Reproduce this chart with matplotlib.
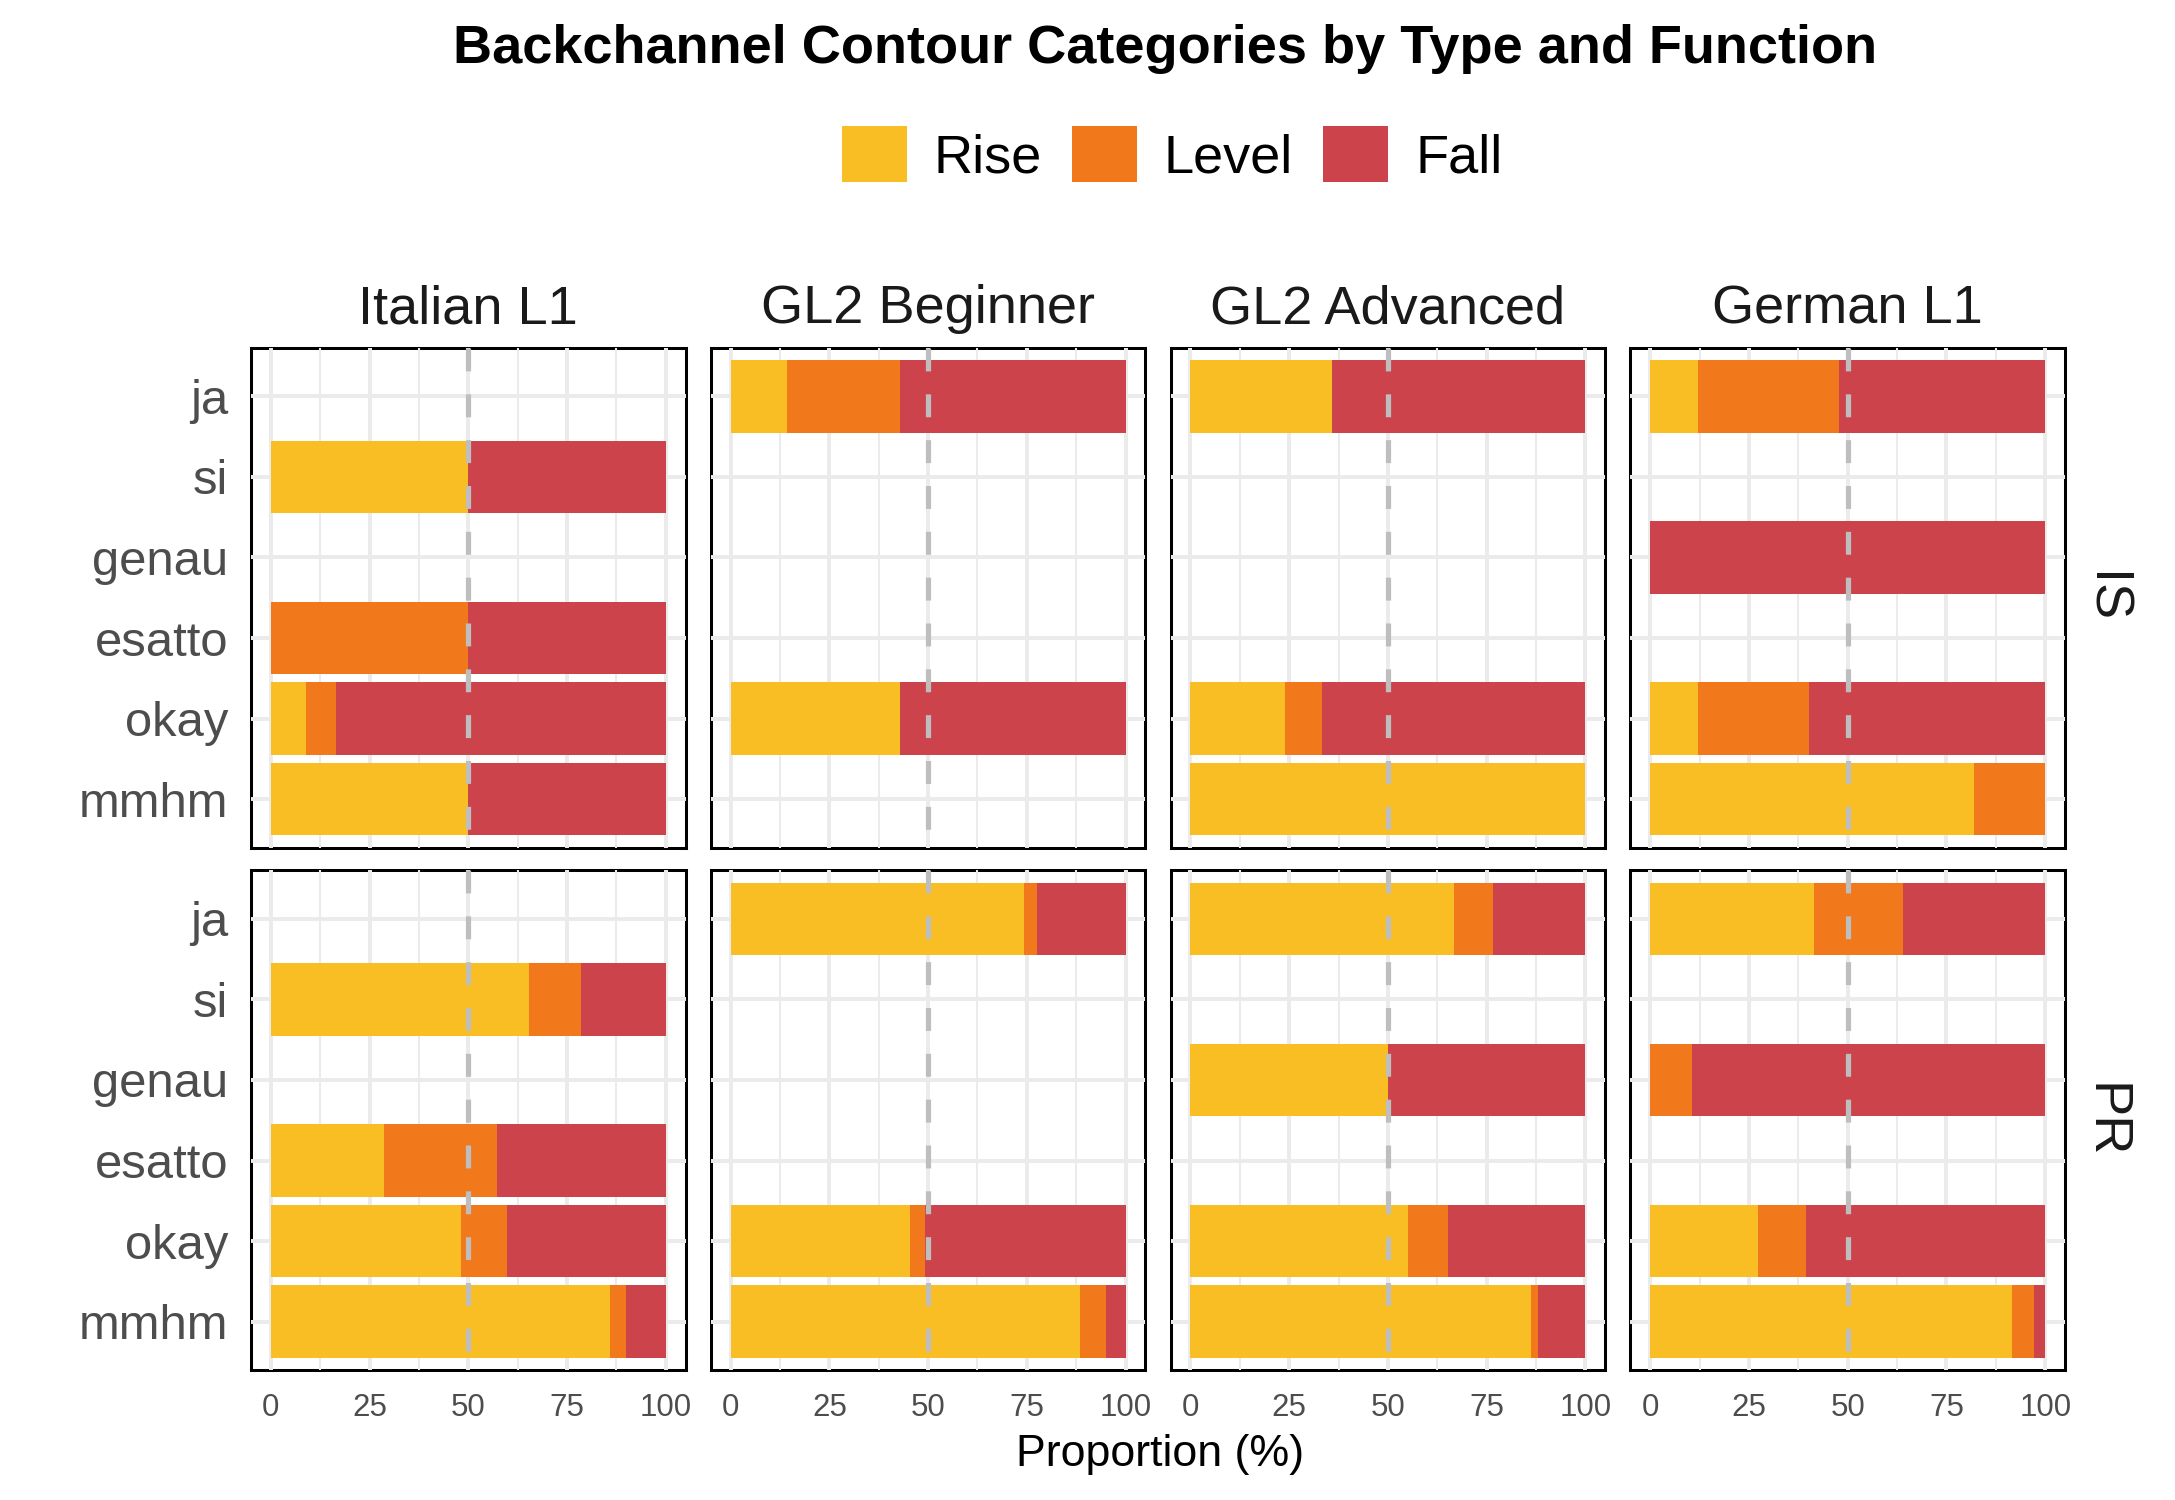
import numpy as np
import matplotlib
matplotlib.use("Agg")
import matplotlib.pyplot as plt
from matplotlib.patches import Patch

nan = np.nan

words = ["ja", "si", "genau", "esatto", "okay", "mmhm"]
groups = ["Italian L1", "GL2 Beginner", "GL2 Advanced", "German L1"]
functions = ["IS", "PR"]
contours = ["Rise", "Level", "Fall"]

# proportions (%) per group, in the order of `words`; nan = word not produced
rise_is = [
    [nan, 50.0, nan, 0.0, 8.8, 50.0],
    [14.3, nan, nan, nan, 42.9, nan],
    [35.8, nan, nan, nan, 23.9, 100.0],
    [12.1, nan, 0.0, nan, 12.1, 81.9],
]
level_is = [
    [nan, 0.0, nan, 50.0, 7.7, 0.0],
    [28.6, nan, nan, nan, 0.0, nan],
    [0.0, nan, nan, nan, 9.3, 0.0],
    [35.6, nan, 0.0, nan, 28.0, 18.1],
]
fall_is = [
    [nan, 50.0, nan, 50.0, 83.5, 50.0],
    [57.1, nan, nan, nan, 57.1, nan],
    [64.2, nan, nan, nan, 66.8, 0.0],
    [52.3, nan, 100.0, nan, 59.9, 0.0],
]

rise_pr = [
    [nan, 65.3, nan, 28.6, 48.1, 85.8],
    [74.2, nan, nan, nan, 45.5, 88.4],
    [66.8, nan, 50.0, nan, 55.0, 86.3],
    [41.5, nan, 0.0, nan, 27.3, 91.7],
]
level_pr = [
    [nan, 13.1, nan, 28.6, 11.7, 4.1],
    [3.4, nan, nan, nan, 3.7, 6.6],
    [9.7, nan, 0.0, nan, 10.1, 1.8],
    [22.6, nan, 10.7, nan, 12.1, 5.4],
]
fall_pr = [
    [nan, 21.6, nan, 42.8, 40.2, 10.1],
    [22.4, nan, nan, nan, 50.8, 5.0],
    [23.5, nan, 50.0, nan, 34.9, 11.9],
    [35.9, nan, 89.3, nan, 60.6, 2.9],
]

COLORS = {"Rise": "#F9BE23", "Level": "#F2781C", "Fall": "#CC434B"}
GRID = "#EBEBEB"
FONT = ["Liberation Sans", "DejaVu Sans"]

plt.rcParams["font.family"] = FONT

data = {
    "IS": {"Rise": rise_is, "Level": level_is, "Fall": fall_is},
    "PR": {"Rise": rise_pr, "Level": level_pr, "Fall": fall_pr},
}

W, H = 2175, 1500
fig, axes = plt.subplots(2, 4, figsize=(W / 150, H / 150), dpi=150,
                         sharex=True, sharey=True)
fig.subplots_adjust(left=251 / W, right=2065 / W, top=1 - 348 / H,
                    bottom=1 - 1370 / H, wspace=0.058, hspace=0.046)

ypos = np.arange(len(words))[::-1] + 1  # ja at top

for r, func in enumerate(functions):
    for c, grp in enumerate(groups):
        ax = axes[r, c]
        left = np.zeros(len(words))
        for cont in contours:
            vals = np.array(data[func][cont][c], dtype=float)
            ok = ~np.isnan(vals)
            ax.barh(ypos[ok], vals[ok], left=left[ok], height=0.9,
                    color=COLORS[cont], linewidth=0, zorder=1)
            left[ok] += vals[ok]
        ax.plot([50, 50], [6.6, 0.4], color="#BEBEBE", lw=2.5,
                linestyle=(0, (4.4, 4.4)), zorder=3)

        ax.set_xlim(-5, 105)
        ax.set_ylim(0.4, 6.6)
        ax.set_xticks([0, 25, 50, 75, 100])
        ax.set_xticks([12.5, 37.5, 62.5, 87.5], minor=True)
        ax.set_yticks(ypos)
        ax.set_yticklabels(words)
        ax.set_axisbelow(True)
        ax.grid(True, which="major", color=GRID, lw=1.9)
        ax.grid(True, which="minor", axis="x", color=GRID, lw=1.0)
        ax.tick_params(which="both", length=0)
        ax.tick_params(axis="x", labelsize=15, colors="#4D4D4D", pad=11)
        ax.tick_params(axis="y", labelsize=23.5, colors="#4D4D4D", pad=11)
        for sp in ax.spines.values():
            sp.set_linewidth(1.45)
            sp.set_color("black")
            sp.set_zorder(0.3)
        if r == 0:
            ax.set_title(grp, fontsize=26, color="#1A1A1A", pad=12)
        if c == 3:
            ax.text(1.09, 0.5, func, transform=ax.transAxes, rotation=270,
                    ha="center", va="center", fontsize=26, color="#1A1A1A")

fig.text(1165 / W, 1 - 62.7 / H,
         "Backchannel Contour Categories by Type and Function",
         ha="center", va="baseline", fontsize=26, fontweight="bold")

handles = [Patch(facecolor=COLORS[k], edgecolor="none", label=k) for k in contours]
fig.legend(handles=handles, loc="center", ncol=3,
           bbox_to_anchor=(1172 / W, 1 - 155 / H), frameon=False,
           fontsize=26, handlelength=1.2, handleheight=1.2,
           handletextpad=0.5, columnspacing=0.55)

fig.text(1160 / W, 1 - 1466 / H, "Proportion (%)", ha="center",
         va="baseline", fontsize=21.5)

fig.savefig("out.png", dpi=150)
